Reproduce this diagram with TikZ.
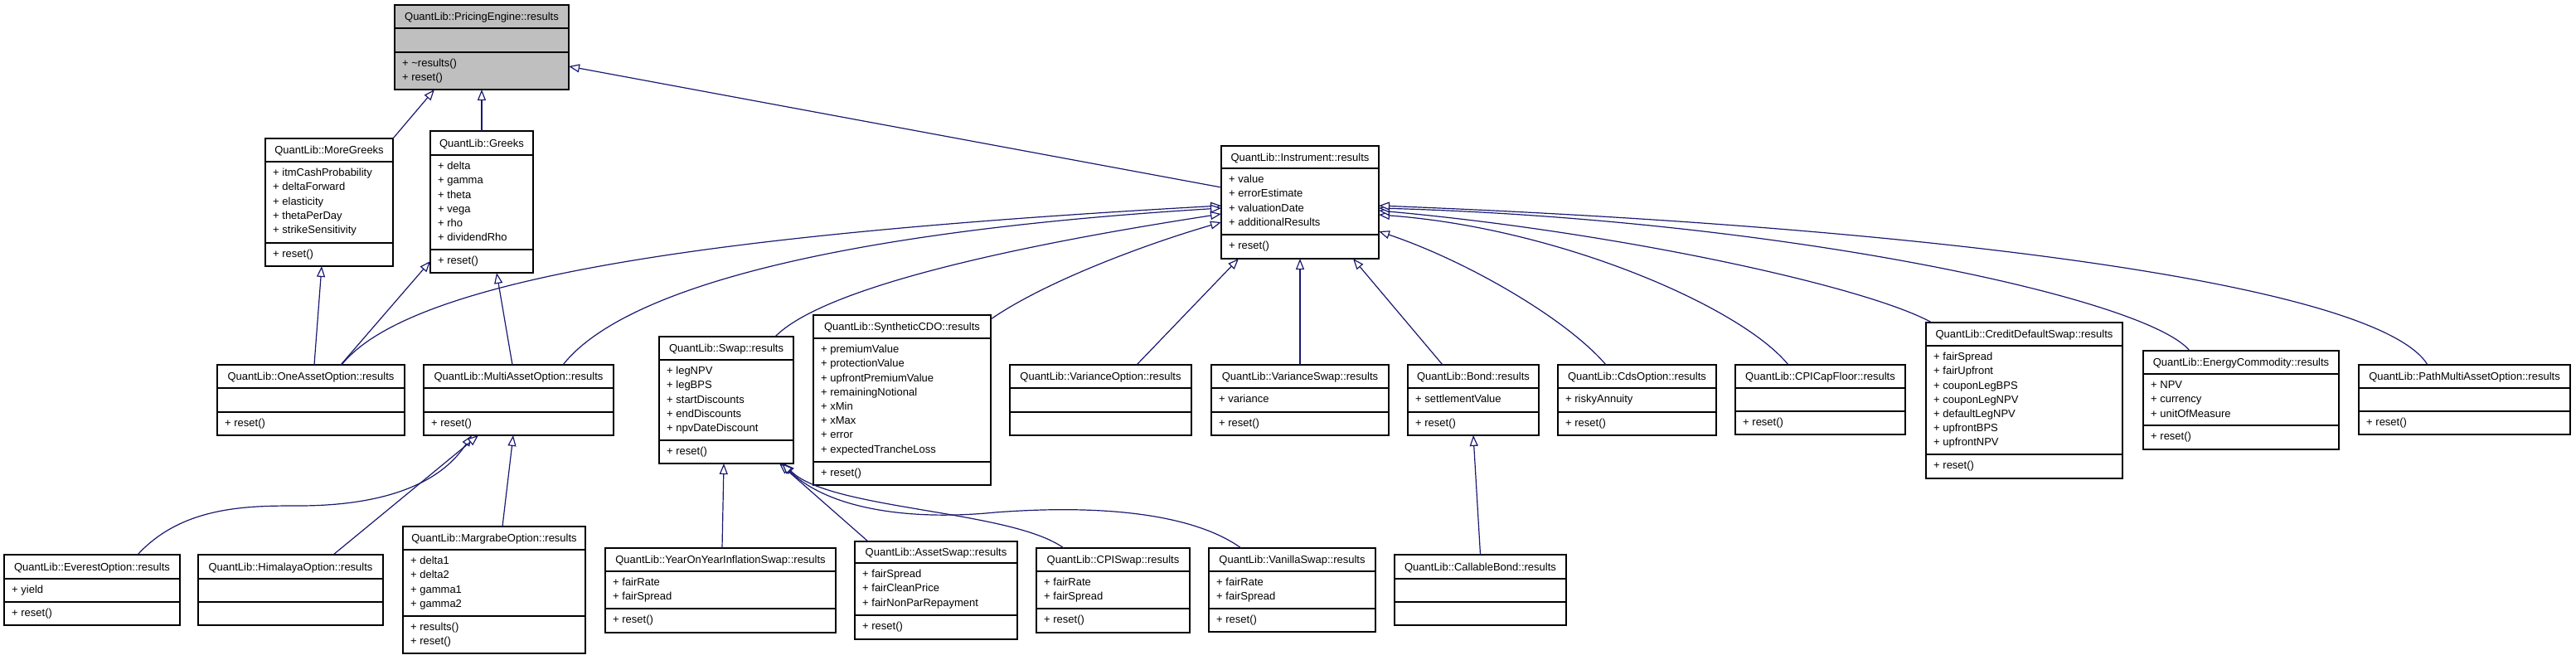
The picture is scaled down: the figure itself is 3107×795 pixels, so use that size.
\documentclass[tikz,border=0pt]{standalone}
\usepackage{fontspec}
\setmainfont{Liberation Sans}
\usetikzlibrary{arrows.meta}
\definecolor{edge}{HTML}{191970}
\definecolor{pegray}{HTML}{BFBFBF}
\tikzset{
  clsbox/.style={draw=black, line width=1.6pt, rectangle, inner sep=0pt, outer sep=0pt, anchor=north west},
  divider/.style={draw=black, line width=1.6pt},
  txt/.style={font=\fontsize{13}{15}\selectfont, inner sep=0pt, text=black},
  inh/.style={draw=edge, line width=1.2pt, -{Triangle[open, fill=white, length=13pt, width=10pt]}},
}
% [style] name x1 y1 x2 y2 d1 d2 title
\newcommand\umlclass[9][]{%
  \node[clsbox,#1,minimum width=#5-#3, minimum height=#6-#4] (#2) at (#3,#4) {};
  \draw[divider] (#3,#7) -- (#5,#7);
  \draw[divider] (#3,#8) -- (#5,#8);
  \node[txt, anchor=base] (#2-title) at ({(#3+#5)/2},{(#4+#7)/2+4.7}) {#9};
}
% tag x1 divider list
\newcommand\members[4]{%
  \foreach \m [count=\i from 0] in {#4}{%
    \node[txt, anchor=base west] (#1\i) at ({#2+9},{#3+13+17.2*\i+4.7}) {\m};}%
}
\begin{document}
\begin{tikzpicture}[x=1pt,y=-1pt]
\useasboundingbox (0,0) rectangle (3107,795);

% ---- classes ----
\umlclass[fill=pegray]{pe}{476}{6}{686}{108}{34}{63}{QuantLib::PricingEngine::results}
\members{pe-m}{476}{63}{+ \textasciitilde results(), + reset()}

\umlclass{mg}{320}{167}{474}{321}{195}{293}{QuantLib::MoreGreeks}
\members{mg-a}{320}{195}{+ itmCashProbability, + deltaForward, + elasticity, + thetaPerDay, + strikeSensitivity}
\members{mg-m}{320}{293}{+ reset()}

\umlclass{gr}{519}{158}{643}{329}{187}{301}{QuantLib::Greeks}
\members{gr-a}{519}{187}{+ delta, + gamma, + theta, + vega, + rho, + dividendRho}
\members{gr-m}{519}{301}{+ reset()}

\umlclass{ins}{1473}{176}{1663}{312}{203}{283}{QuantLib::Instrument::results}
\members{ins-a}{1473}{203}{+ value, + errorEstimate, + valuationDate, + additionalResults}
\members{ins-m}{1473}{283}{+ reset()}

\umlclass{oa}{262}{440}{488}{525}{468}{497}{QuantLib::OneAssetOption::results}
\members{oa-m}{262}{497}{+ reset()}

\umlclass{ma}{511}{440}{740}{525}{468}{497}{QuantLib::MultiAssetOption::results}
\members{ma-m}{511}{497}{+ reset()}

\umlclass{sw}{795}{406}{957}{559}{434}{531}{QuantLib::Swap::results}
\members{sw-a}{795}{434}{+ legNPV, + legBPS, + startDiscounts, + endDiscounts, + npvDateDiscount}
\members{sw-m}{795}{531}{+ reset()}

\umlclass{cdo}{981}{380}{1195}{585}{408}{557}{QuantLib::SyntheticCDO::results}
\members{cdo-a}{981}{408}{+ premiumValue, + protectionValue, + upfrontPremiumValue, + remainingNotional, + xMin, + xMax, + error, + expectedTrancheLoss}
\members{cdo-m}{981}{557}{+ reset()}

\umlclass{vo}{1218}{440}{1437}{525}{468}{497}{QuantLib::VarianceOption::results}

\umlclass{vs}{1461}{440}{1675}{525}{468}{497}{QuantLib::VarianceSwap::results}
\members{vs-a}{1461}{468}{+ variance}
\members{vs-m}{1461}{497}{+ reset()}

\umlclass{bd}{1698}{440}{1856}{525}{468}{497}{QuantLib::Bond::results}
\members{bd-a}{1698}{468}{+ settlementValue}
\members{bd-m}{1698}{497}{+ reset()}

\umlclass{co}{1879}{440}{2070}{525}{468}{497}{QuantLib::CdsOption::results}
\members{co-a}{1879}{468}{+ riskyAnnuity}
\members{co-m}{1879}{497}{+ reset()}

\umlclass{cf}{2093}{440}{2298}{524}{468}{496}{QuantLib::CPICapFloor::results}
\members{cf-m}{2093}{496}{+ reset()}

\umlclass{cds}{2323}{389}{2560}{577}{417}{548}{QuantLib::CreditDefaultSwap::results}
\members{cds-a}{2323}{417}{+ fairSpread, + fairUpfront, + couponLegBPS, + couponLegNPV, + defaultLegNPV, + upfrontBPS, + upfrontNPV}
\members{cds-m}{2323}{548}{+ reset()}

\umlclass{ec}{2585}{423}{2821}{542}{451}{513}{QuantLib::EnergyCommodity::results}
\members{ec-a}{2585}{451}{+ NPV, + currency, + unitOfMeasure}
\members{ec-m}{2585}{513}{+ reset()}

\umlclass{pm}{2845}{440}{3100}{524}{468}{496}{QuantLib::PathMultiAssetOption::results}
\members{pm-m}{2845}{496}{+ reset()}

\umlclass{ev}{5}{669}{217}{754}{698}{726}{QuantLib::EverestOption::results}
\members{ev-a}{5}{698}{+ yield}
\members{ev-m}{5}{726}{+ reset()}

\umlclass{hi}{239}{669}{462}{754}{698}{726}{QuantLib::HimalayaOption::results}

\umlclass{mr}{486}{635}{706}{788}{663}{743}{QuantLib::MargrabeOption::results}
\members{mr-a}{486}{663}{+ delta1, + delta2, + gamma1, + gamma2}
\members{mr-m}{486}{743}{+ results(), + reset()}

\umlclass{yy}{730}{661}{1008}{763}{689}{734}{QuantLib::YearOnYearInflationSwap::results}
\members{yy-a}{730}{689}{+ fairRate, + fairSpread}
\members{yy-m}{730}{734}{+ reset()}

\umlclass{as}{1031}{653}{1227}{771}{679}{742}{QuantLib::AssetSwap::results}
\members{as-a}{1031}{679}{+ fairSpread, + fairCleanPrice, + fairNonParRepayment}
\members{as-m}{1031}{742}{+ reset()}

\umlclass{cp}{1250}{661}{1435}{763}{689}{734}{QuantLib::CPISwap::results}
\members{cp-a}{1250}{689}{+ fairRate, + fairSpread}
\members{cp-m}{1250}{734}{+ reset()}

\umlclass{vn}{1458}{661}{1659}{762}{689}{734}{QuantLib::VanillaSwap::results}
\members{vn-a}{1458}{689}{+ fairRate, + fairSpread}
\members{vn-m}{1458}{734}{+ reset()}

\umlclass{cb}{1682}{669}{1889}{754}{698}{726}{QuantLib::CallableBond::results}

% ---- inheritance connectors ----
\draw[inh] (mg.north east) -- ([xshift=48pt]pe.south west);
\draw[inh] (gr.north) -- (pe.south);
\draw[inh] ([yshift=-50pt]ins.north west) -- ([yshift=-74pt]pe.north east);

\draw[inh] ([xshift=117pt]oa.north west) -- ([xshift=68pt]mg.south west);
\draw[inh] ([xshift=149pt]oa.north west) -- ([yshift=14pt]gr.south west);
\draw[inh] ([xshift=150pt]oa.north west) .. controls (500,330) and (900,280) .. ([yshift=-72pt]ins.north west);
\draw[inh] ([xshift=107pt]ma.north west) -- ([xshift=80pt]gr.south west);
\draw[inh] ([xshift=168pt]ma.north west) .. controls (750,350) and (1000,280) .. ([yshift=-75pt]ins.north west);
\draw[inh] ([xshift=-22pt]sw.north east) .. controls (990,350) and (1200,300) .. ([yshift=-82pt]ins.north west);
\draw[inh] ([yshift=-5pt]cdo.north east) .. controls (1260,340) and (1380,295) .. ([yshift=-92pt]ins.north west);

\draw[inh] ([xshift=153pt]vo.north west) -- ([xshift=21pt]ins.south west);
\draw[inh] (vs.north) -- (ins.south);
\draw[inh] ([xshift=42pt]bd.north west) -- ([xshift=-31pt]ins.south east);

\draw[inh] ([xshift=58pt]co.north west) .. controls (1890,385) and (1770,315) .. ([yshift=-103pt]ins.north east);
\draw[inh] ([xshift=64pt]cf.north west) .. controls (2100,370) and (1880,275) .. ([yshift=-83pt]ins.north east);
\draw[inh] ([xshift=7pt]cds.north west) .. controls (2250,345) and (1950,280) .. ([yshift=-78pt]ins.north east);
\draw[inh] ([xshift=56pt]ec.north west) .. controls (2590,360) and (2150,265) .. ([yshift=-75pt]ins.north east);
\draw[inh] ([xshift=83pt]pm.north west) .. controls (2870,345) and (2350,275) .. ([yshift=-72pt]ins.north east);

\draw[inh] ([xshift=161pt]ev.north west) .. controls (220,610) and (300,610) .. (360,610) .. controls (460,610) and (530,585) .. ([xshift=58pt]ma.south west);
\draw[inh] ([xshift=163pt]hi.north west) -- ([xshift=66pt]ma.south west);
\draw[inh] ([xshift=120pt]mr.north west) -- ([xshift=108pt]ma.south west);

\draw[inh] ([xshift=141pt]yy.north west) -- ([xshift=78pt]sw.south west);
\draw[inh] ([xshift=16pt]as.north west) -- ([xshift=145pt]sw.south west);
\draw[inh] ([xshift=33pt]cp.north west) .. controls (1220,615) and (1000,615) .. ([xshift=150pt]sw.south west);
\draw[inh] ([xshift=39pt]vn.north west) .. controls (1440,620) and (1330,608) .. (1200,618) .. controls (1100,628) and (1000,615) .. ([xshift=148pt]sw.south west);

\draw[inh] (cb.north) -- (bd.south);
\end{tikzpicture}
\end{document}
